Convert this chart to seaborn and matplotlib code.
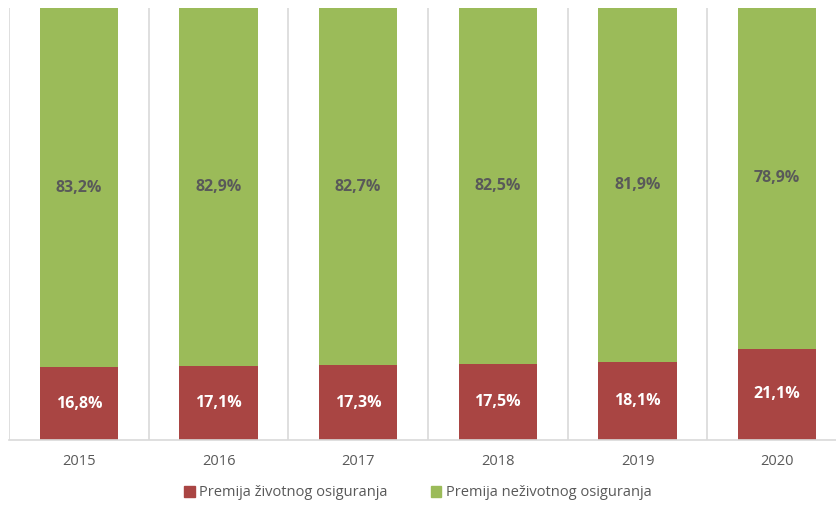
import pandas as pd
import numpy as np
import seaborn as sns
import matplotlib.pyplot as plt
from matplotlib.patches import Patch

godine = ['2015', '2016', '2017', '2018', '2019', '2020']
zivotno = [16.8, 17.1, 17.3, 17.5, 18.1, 21.1]
nezivotno = [83.2, 82.9, 82.7, 82.5, 81.9, 78.9]

crvena = '#A94543'
zelena = '#9BBB59'
siva = '#595959'

df = pd.DataFrame({'godina': godine, 'zivotno': zivotno, 'nezivotno': nezivotno})
df['ukupno'] = df['zivotno'] + df['nezivotno']

sns.set_style('white')
plt.rcParams['font.family'] = ['Open Sans', 'DejaVu Sans']

fig = plt.figure(figsize=(8.36, 5.05), dpi=100)
ax = fig.add_axes([9 / 836, 1 - 440 / 505, 838 / 836, 432 / 505])

sns.barplot(data=df, x='godina', y='ukupno', color=zelena, width=0.56,
            saturation=1, linewidth=0, ax=ax)
sns.barplot(data=df, x='godina', y='zivotno', color=crvena, width=0.56,
            saturation=1, linewidth=0, ax=ax)

# labels in the middle of each segment
for i, (z, n) in enumerate(zip(zivotno, nezivotno)):
    ax.text(i, z / 2, '{:.1f}%'.format(z).replace('.', ','), ha='center', va='center',
            color='white', fontsize=11.5, fontweight='bold')
    ax.text(i, z + n / 2, '{:.1f}%'.format(n).replace('.', ','), ha='center', va='center',
            color=siva, fontsize=11.5, fontweight='bold')

ax.set_ylim(0, 100)
ax.set_xlim(-0.5, 5.5)
ax.set_yticks([])
ax.set_xlabel('')
ax.set_ylabel('')
ax.set_xticks(np.arange(-0.5, 6, 1), minor=True)
ax.grid(True, which='minor', axis='x', color='#D9D9D9', linewidth=1.2)
ax.tick_params(axis='x', which='both', length=0, labelsize=10.5, labelcolor=siva, pad=10)
for s in ['top', 'right', 'left']:
    ax.spines[s].set_visible(False)
ax.spines['bottom'].set_color('#D9D9D9')
ax.spines['bottom'].set_linewidth(1.2)
ax.set_axisbelow(True)

handles = [Patch(color=crvena, label='Premija životnog osiguranja'),
           Patch(color=zelena, label='Premija neživotnog osiguranja')]
fig.legend(handles=handles, loc='center', bbox_to_anchor=(418 / 836, 1 - 493 / 505),
           ncol=2, frameon=False, fontsize=10.5, labelcolor=siva,
           handlelength=0.7, handleheight=0.7, handletextpad=0.3, columnspacing=3)

fig.savefig('out.png', dpi=100)
